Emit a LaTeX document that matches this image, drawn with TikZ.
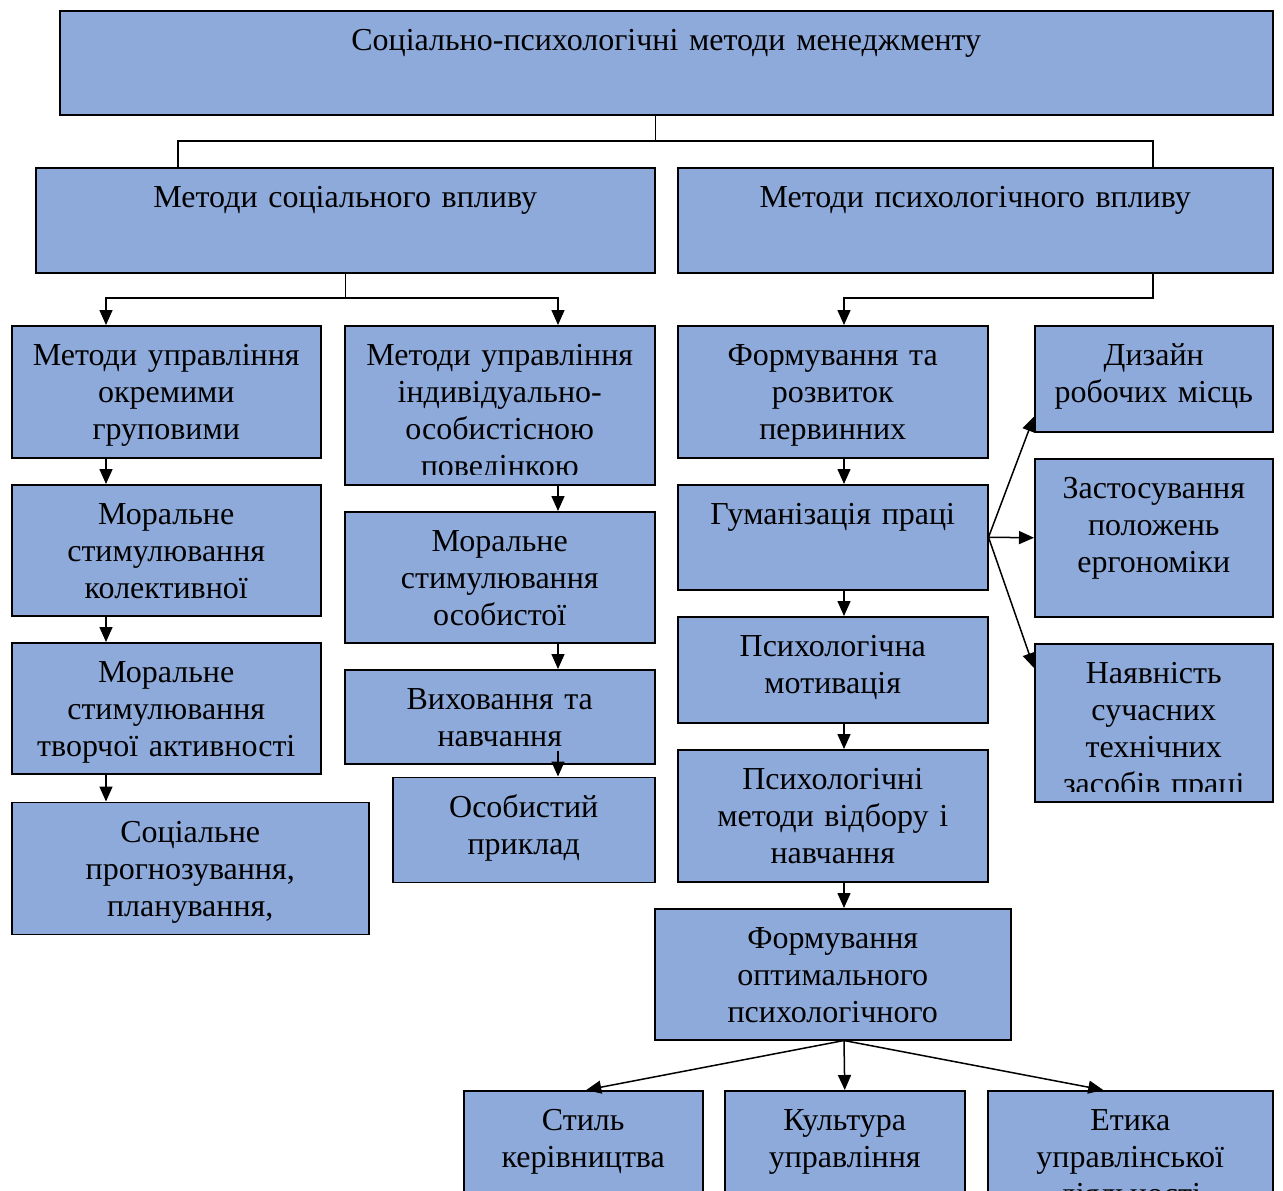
\documentclass[tikz,border=0pt]{standalone}
\usepackage{fontspec}
\setmainfont{Liberation Serif}
\usetikzlibrary{positioning,arrows.meta}
\definecolor{boxblue}{RGB}{142,170,219}

\begin{document}
\begin{tikzpicture}[x=1bp,y=-1bp,>={Triangle[length=15bp,width=13bp]},line width=1.5bp,node distance=25.5bp]

  \tikzset{txt/.style={font=\fontsize{32bp}{37bp}\selectfont,align=center,inner sep=0pt,anchor=base,
      draw=none,fill=none,minimum width=0pt,minimum height=0pt}}
  \tikzset{blk/.style n args={3}{draw,fill=boxblue,inner sep=0pt,minimum width=#1,minimum height=#2,
      path picture={
        \clip ([yshift=10bp]path picture bounding box.south west) rectangle (path picture bounding box.north east);
        \node[txt,text width=#1] at ([yshift=-40bp]path picture bounding box.north) {#3};}}}

  \useasboundingbox (0,0) rectangle (1283,1191);

  \node[blk={1213bp}{104bp}{Соціально-психологічні методи менеджменту},anchor=north west] (title) at (59,10) {};
  \node[blk={619bp}{105bp}{Методи соціального впливу},anchor=north west] (soc) at (35,167) {};
  \node[blk={595bp}{105bp}{Методи психологічного впливу}] (psy) [right=21.5bp of soc] {};

  \node[blk={309bp}{132bp}{Методи управління\\окремими\\груповими},anchor=north west] (b1) at (11,325) {};
  \node[blk={309bp}{131bp}{Моральне\\стимулювання\\колективної}] (b2) [below=of b1] {};
  \node[blk={309bp}{131bp}{Моральне\\стимулювання\\творчої активності}] (b3) [below=of b2] {};
  \node[blk={357bp}{132bp}{Соціальне\\прогнозування,\\планування,},anchor=north west] (b4) at ([yshift=-27bp]b3.south west) {};

  \node[blk={310bp}{159bp}{Методи управління\\індивідуально-\\особистісною\\поведінкою},anchor=north west] (m1) at (344,325) {};
  \node[blk={310bp}{131bp}{Моральне\\стимулювання\\особистої}] (m2) [below=of m1] {};
  \node[blk={310bp}{94bp}{Виховання та\\навчання}] (m3) [below=of m2] {};
  \node[blk={262bp}{105bp}{Особистий\\приклад},anchor=north east] (m4) at ([yshift=-12bp]m3.south east) {};

  \node[blk={310bp}{132bp}{Формування та\\розвиток\\первинних},anchor=north west] (r1) at (677,325) {};
  \node[blk={310bp}{105bp}{Гуманізація праці}] (r2) [below=of r1] {};
  \node[blk={310bp}{106bp}{Психологічна\\мотивація}] (r3) [below=of r2] {};
  \node[blk={310bp}{132bp}{Психологічні\\методи відбору і\\навчання}] (r4) [below=of r3] {};
  \node[blk={356bp}{131bp}{Формування\\оптимального\\психологічного}] (r5) [below=of r4] {};

  \node[blk={238bp}{106bp}{Дизайн\\робочих місць},anchor=north west] (d1) at (1034,325) {};
  \node[blk={238bp}{158bp}{Застосування\\положень\\ергономіки}] (d2) [below=of d1] {};
  \node[blk={238bp}{158bp}{Наявність\\сучасних\\технічних\\засобів праці}] (d3) [below=of d2] {};

  \node[blk={239bp}{130bp}{Стиль\\керівництва},anchor=north west] (s1) at (463,1090) {};
  \node[blk={240bp}{130bp}{Культура\\управління},anchor=north west] (s2) at (724,1090) {};
  \node[blk={285bp}{130bp}{Етика\\управлінської\\діяльності},anchor=north west] (s3) at (987,1090) {};

  \coordinate (top) at (0,141);
  \coordinate (mid) at (0,298);
  \coordinate (sj) at (178,0);
  \coordinate (pj) at (1153,0);
  \coordinate (bx) at (106,0);
  \coordinate (mx) at (558,0);
  \coordinate (rx) at (844,0);

  \draw (title.south -| soc.east) -- (top -| soc.east);
  \draw (soc.north -| sj) |- (top -| pj) -- (psy.north -| pj);

  \draw[->] (soc.south) |- (mid -| bx) -- (b1.north -| bx);
  \draw[->] (soc.south) |- (mid -| mx) -- (m1.north -| mx);
  \draw[->] (psy.south -| pj) |- (mid -| rx) -- (r1.north -| rx);

  \path[->]
  (b1.south -| bx) edge (b2.north -| bx)
  (b2.south -| bx) edge (b3.north -| bx)
  (b3.south -| bx) edge (b4.north -| bx)
  (m1.south -| mx) edge (m2.north -| mx)
  (m2.south -| mx) edge (m3.north -| mx)
  (m3.south -| mx) ++(0,-14) edge (m4.north -| mx)
  (r1.south -| rx) edge (r2.north -| rx)
  (r2.south -| rx) edge (r3.north -| rx)
  (r3.south -| rx) edge (r4.north -| rx)
  (r4.south -| rx) edge (r5.north -| rx)
  (r2.east)
  edge ([yshift=16bp]d1.south west)
  edge (d2.west)
  edge ([yshift=-25bp]d3.north west)
  (r5.south -| rx)
  edge ([xshift=3bp]s1.north)
  edge (s2.north)
  edge ([xshift=-27bp]s3.north)
  ;
\end{tikzpicture}
\end{document}
